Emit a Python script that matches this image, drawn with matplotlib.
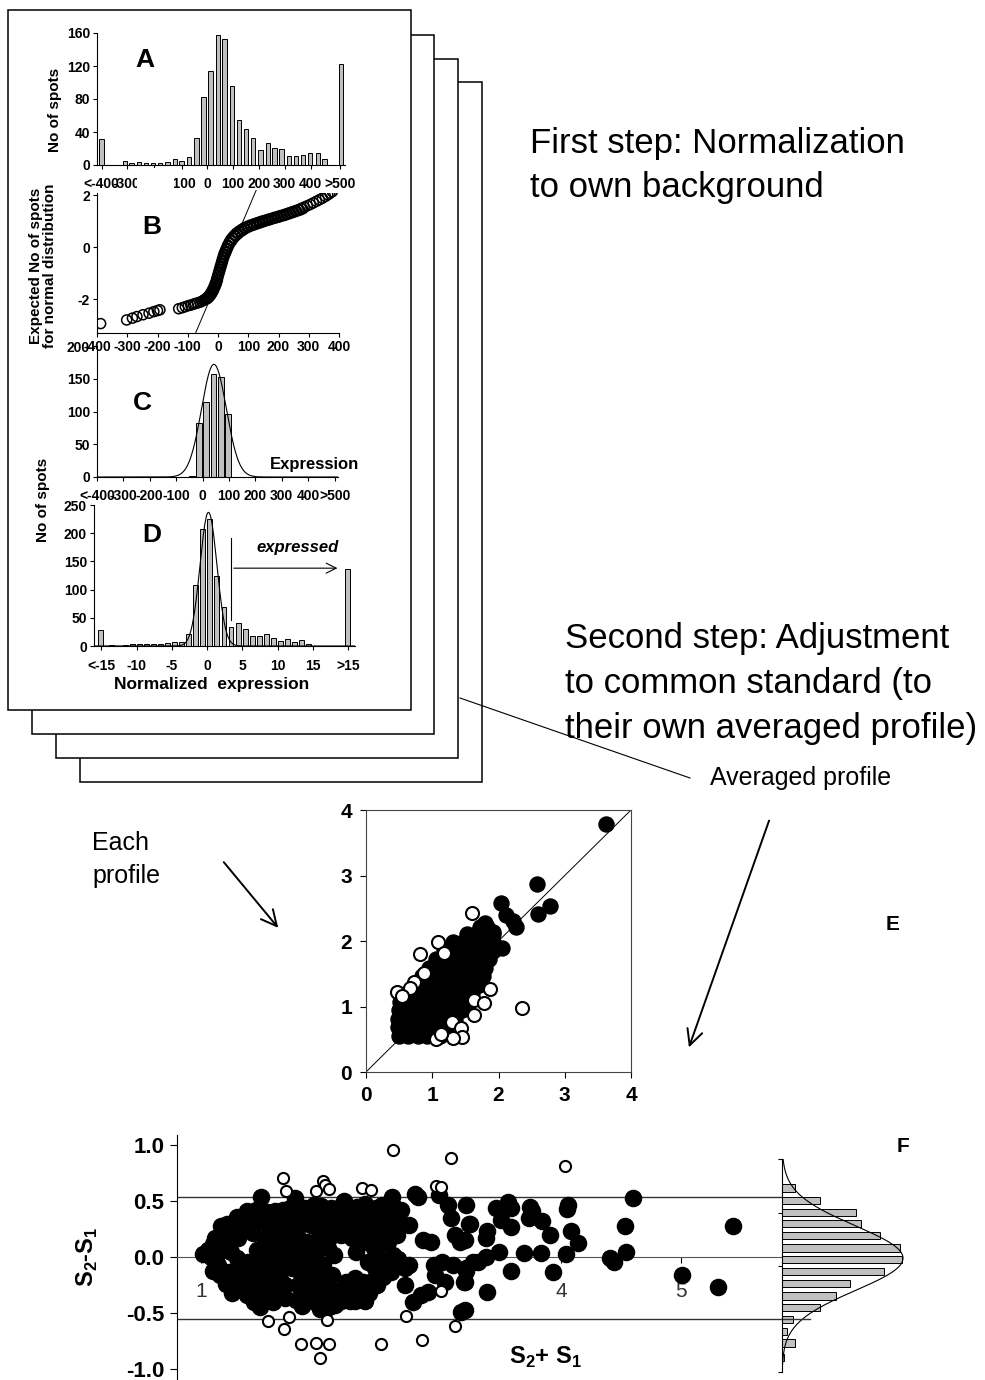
import matplotlib as mpl
mpl.use('Agg')
import numpy as np
import matplotlib.pyplot as plt
from matplotlib.patches import Rectangle, FancyArrowPatch
from matplotlib.lines import Line2D

plt.rcParams['font.family'] = ['Liberation Sans', 'DejaVu Sans']
plt.rcParams['font.weight'] = 'bold'
plt.rcParams['mathtext.fontset'] = 'custom'
plt.rcParams['mathtext.rm'] = 'Liberation Sans'
plt.rcParams['mathtext.bf'] = 'Liberation Sans:bold'
plt.rcParams['axes.linewidth'] = 0.8
plt.rcParams['axes.unicode_minus'] = False

W, H = 985, 1380
BAR = '#c0c0c0'

# ---- panel A: raw expression histogram
A_x = [-406, -317, -291, -261, -236, -208, -182, -152, -124, -98, -69, -41, -13, 13, 42,
       68, 96, 123, 151, 177, 206, 235, 260, 288, 315, 344, 369, 398, 427, 453, 517]
A_n = [32, 5, 2, 4, 3, 2, 3, 4, 7, 5, 10, 33, 82, 114, 157, 153, 96, 55, 44, 33, 18, 27,
       21, 19, 11, 11, 12, 14, 15, 7, 123]
A_tick_pos = [-406, -310, -205, -95, 0, 100, 200, 300, 400, 512]
A_tick_lab = ['<-400', '-300', '-200', '-100', '0', '100', '200', '300', '400', '>500']

# ---- panel B: normal probability plot
B_x = [-388, -302, -283, -268, -248, -228, -212, -200, -192, -130, -118, -108, -98, -90,
       -82, -75, -68, -60, -54, -48, -42, -38, -34, -30, -26, -22, -18, -14, -10, -7, -4,
       -1, 2, 5, 8, 11, 14, 17, 20, 24, 28, 32, 37, 42, 48, 55, 62, 70, 78, 86, 95, 105,
       115, 125, 135, 145, 155, 165, 175, 185, 195, 205, 215, 225, 235, 245, 255, 265,
       275, 285, 295, 305, 315, 325, 335, 345, 355, 363, 370, 378,
       -45, -36, -32, -28, -24, -20, -16, -12, -8, -5, -2, 0, 3, 6, 9, 12, 15, 18, 22,
       26, 30, 34, 39, 45, 51, 58, 66, 74, 82, 90, 100, 110, 120, 130, 140, 150, 160,
       170, 180, 190, 200, 210, 220, 230, 240, 250, 260, 270, 280]
B_y = [-2.93, -2.79, -2.72, -2.66, -2.59, -2.53, -2.47, -2.43, -2.40, -2.36, -2.32, -2.28,
       -2.24, -2.22, -2.19, -2.16, -2.14, -2.11, -2.08, -2.04, -2.00, -1.96, -1.91, -1.86,
       -1.80, -1.72, -1.63, -1.53, -1.42, -1.32, -1.20, -1.08, -0.96, -0.84, -0.72, -0.60,
       -0.48, -0.36, -0.25, -0.14, -0.03, 0.08, 0.19, 0.29, 0.38, 0.47, 0.55, 0.62, 0.68,
       0.74, 0.79, 0.84, 0.88, 0.92, 0.96, 1.00, 1.03, 1.07, 1.10, 1.14, 1.17, 1.21, 1.24,
       1.28, 1.32, 1.36, 1.40, 1.44, 1.49, 1.54, 1.59, 1.64, 1.70, 1.76, 1.82, 1.88, 1.95,
       2.01, 2.07, 2.13,
       -2.02, -1.98, -1.94, -1.89, -1.83, -1.76, -1.68, -1.58, -1.47, -1.37, -1.26, -1.14,
       -1.02, -0.90, -0.78, -0.66, -0.54, -0.42, -0.30, -0.19, -0.08, 0.03, 0.14, 0.24,
       0.34, 0.43, 0.51, 0.59, 0.65, 0.71, 0.77, 0.82, 0.86, 0.90, 0.94, 0.98, 1.02, 1.05,
       1.09, 1.12, 1.15, 1.19, 1.22, 1.26, 1.30, 1.34, 1.38, 1.42, 1.47]
B_fit_x = [-74, 126]
B_fit_y = [-3.29, 2.18]

# ---- panel C: central part with fitted normal
C_x = [-41, -13, 13, 41, 69, 97]
C_n = [2, 82, 114, 157, 153, 96]
C_peak, C_mu, C_sd = 172, 43, 47
C_tick_lab = ['<-400', '-300', '-200', '-100', '0', '100', '200', '300', '400', '>500']

# ---- panel D: normalized expression
D_x = [-15.1, -13.6, -11.6, -10.6, -9.6, -8.6, -7.6, -6.6, -5.6, -4.6, -3.6, -2.6, -1.6,
       -0.6, 0.4, 1.4, 2.4, 3.4, 4.4, 5.4, 6.4, 7.4, 8.4, 9.4, 10.4, 11.4, 12.4, 13.4, 14.4,
       20.0]
D_n = [28, 1, 1, 3, 3, 3, 4, 4, 5, 7, 7, 21, 108, 207, 226, 124, 69, 34, 41, 31, 18, 18,
       22, 14, 8, 12, 7, 10, 4, 137]
D_peak, D_mu, D_sd = 237, 0.2, 1.2
D_cut = 3.4
D_tick_pos = [-15, -10, -5, 0, 5, 10, 15, 20]
D_tick_lab = ['<-15', '-10', '-5', '0', '5', '10', '15', '>15']

# ---- panel E: profile vs averaged profile
E_rows_y = [0.55, 0.68, 0.81, 0.94, 1.07, 1.20, 1.33, 1.46, 1.59, 1.72, 1.85, 1.98, 2.10, 2.22]
E_rows_x = [[0.50, 0.64, 0.78, 0.92, 1.06, 1.12],
            [0.48, 0.62, 0.76, 0.90, 1.04, 1.18, 1.25],
            [0.48, 0.62, 0.76, 0.90, 1.04, 1.18, 1.32, 1.35],
            [0.50, 0.64, 0.78, 0.92, 1.06, 1.20, 1.34, 1.45],
            [0.52, 0.66, 0.80, 0.94, 1.08, 1.22, 1.36, 1.50, 1.55],
            [0.62, 0.76, 0.90, 1.04, 1.18, 1.32, 1.46, 1.60],
            [0.72, 0.86, 1.00, 1.14, 1.28, 1.42, 1.56, 1.70],
            [0.84, 0.98, 1.12, 1.26, 1.40, 1.54, 1.68, 1.76],
            [0.95, 1.09, 1.23, 1.37, 1.51, 1.65, 1.79],
            [1.05, 1.19, 1.33, 1.47, 1.61, 1.75, 1.86],
            [1.18, 1.32, 1.46, 1.60, 1.74, 1.88, 1.92],
            [1.32, 1.46, 1.60, 1.74, 1.88, 1.92],
            [1.52, 1.66, 1.80, 1.92],
            [1.72, 1.82]]
E_hi_x = [3.63, 2.58, 2.78, 2.59, 2.04, 2.12, 2.22, 2.27, 1.80, 2.05, 1.92]
E_hi_y = [3.78, 2.87, 2.53, 2.41, 2.58, 2.40, 2.30, 2.22, 2.28, 1.89, 2.14]
E_open_x = [1.60, 1.08, 0.82, 1.17, 0.88, 0.72, 0.66, 0.47, 0.55, 1.87, 1.63, 1.78, 1.63,
            2.35, 1.30, 1.44, 1.45, 1.31, 1.06, 1.13]
E_open_y = [2.42, 1.98, 1.80, 1.81, 1.51, 1.37, 1.28, 1.22, 1.16, 1.26, 1.10, 1.05, 0.87,
            0.97, 0.76, 0.67, 0.54, 0.52, 0.50, 0.58]

# ---- panel F: difference vs sum
F_fill_x = [1.06, 1.08, 1.12, 1.14, 1.19, 1.20, 1.23, 1.21, 1.27, 1.30, 1.31, 1.28, 1.34,
            1.38, 1.39, 1.38, 1.44, 1.46, 1.48, 1.49, 1.52, 1.53, 1.55, 1.56, 1.59, 1.62,
            1.62, 1.62, 1.63, 1.64, 1.70, 1.70, 1.67, 1.50, 1.66, 1.10, 1.16, 1.25, 1.34,
            1.43, 1.45, 1.57, 1.58, 1.68, 1.52, 1.22, 1.30,
            1.02, 1.10, 1.15, 1.17, 1.24, 1.26, 1.33, 1.33, 1.36, 1.40, 1.41, 1.47, 1.50,
            1.55, 1.57, 1.60, 1.66, 1.68, 1.69, 1.71,
            1.74, 1.76, 1.77, 1.78, 1.80, 1.81, 1.83, 1.84, 1.85, 1.87, 1.88, 1.89, 1.91,
            1.92, 1.94, 1.95, 1.96, 1.98, 1.99, 2.01, 2.02, 2.03, 2.05, 2.06, 2.08, 2.09,
            2.10, 2.12, 1.75, 1.82, 1.90, 1.93, 2.00, 1.86, 2.04, 1.97,
            1.74, 1.76, 1.79, 1.80, 1.83, 1.86, 1.88, 1.90, 1.93, 1.96, 1.98, 2.00, 2.04,
            2.07, 2.08, 2.11, 2.10, 2.13,
            2.14, 2.17, 2.20, 2.23, 2.24, 2.26, 2.28, 2.30, 2.31, 2.33, 2.35, 2.38, 2.39,
            2.41, 2.42, 2.45, 2.46, 2.48, 2.51, 2.53, 2.56, 2.58, 2.59, 2.62, 2.60, 2.20,
            2.36, 2.50, 2.44,
            2.16, 2.19, 2.21, 2.25, 2.27, 2.29, 2.33, 2.34, 2.37, 2.40, 2.43, 2.47, 2.49,
            2.52, 2.55, 2.57, 2.63, 2.64,
            2.64, 2.67, 2.70, 2.73, 2.73, 2.70, 2.77, 2.78, 2.81, 2.83, 2.85, 2.89, 2.92,
            2.94, 2.95, 2.98, 3.01, 3.03, 3.06, 3.08, 3.10, 3.12, 3.16, 3.17, 3.19, 3.21,
            3.23, 3.21, 3.27,
            1.95, 2.01, 2.17, 2.28, 2.37,
            3.24, 3.20, 3.21, 3.20, 3.20, 3.46, 3.56, 3.58, 3.50, 3.58, 3.74, 3.76, 3.73,
            3.84, 3.91, 4.06, 4.05, 4.08, 4.14, 3.38, 3.37, 3.48, 3.37, 3.31, 3.69, 3.83,
            4.04, 3.58, 3.93, 3.38, 4.60, 4.53, 4.54, 4.41, 4.44, 5.01, 5.31, 5.43]
F_fill_y = [0.06, 0.00, 0.17, -0.07, 0.23, 0.11, -0.13, -0.24, 0.29, -0.01, 0.17, -0.22,
            0.33, 0.41, -0.04, -0.34, -0.40, 0.42, -0.13, -0.45, 0.32, 0.14, -0.22, -0.34,
            0.38, 0.41, 0.26, -0.01, -0.13, -0.31, -0.25, -0.37, 0.14, 0.54, 0.35, 0.12,
            -0.16, 0.05, -0.18, 0.22, -0.27, 0.05, -0.10, 0.03, -0.06, 0.30, 0.36,
            0.03, -0.12, 0.05, 0.28, 0.20, -0.32, 0.25, -0.28, -0.10, 0.30, -0.22, 0.06,
            -0.30, 0.40, 0.22, -0.40, -0.20, 0.42, 0.27, -0.05,
            0.05, -0.10, 0.41, 0.53, 0.20, -0.25, 0.30, -0.44, 0.00, 0.44, 0.14, -0.16,
            -0.37, 0.29, 0.47, 0.02, -0.25, 0.17, -0.46, 0.38, -0.07, 0.29, -0.34, 0.08,
            0.44, -0.16, 0.20, -0.43, 0.30, -0.05, 0.38, -0.08, 0.08, -0.30, 0.18, -0.15,
            0.44, 0.18, -0.38, 0.05, -0.15, 0.36, -0.02, -0.28, 0.40, 0.27, -0.35, 0.46,
            -0.22, -0.45, 0.30, 0.02, 0.38, -0.30,
            0.44, 0.20, -0.31, 0.41, -0.39, 0.17, -0.19, 0.45, 0.26, -0.37, -0.22, 0.14,
            -0.04, -0.22, 0.23, -0.10, 0.44, 0.32, 0.47, 0.23, 0.14, -0.13, 0.54, 0.44,
            0.02, 0.32, 0.36, -0.02, 0.08,
            0.35, 0.50, -0.22, 0.30, -0.30, 0.05, 0.38, -0.28, 0.48, -0.32, 0.36, -0.25,
            0.12, -0.18, 0.36, -0.05, 0.20, -0.02,
            0.32, 0.42, -0.10, 0.29, -0.07, -0.25, -0.40, 0.57, 0.54, -0.34, 0.15, -0.31,
            0.14, -0.07, -0.16, 0.56, -0.04, -0.22, 0.47, 0.35, -0.07, 0.20, 0.14, -0.49,
            -0.22, 0.47, 0.30, -0.10, -0.04,
            -0.40, -0.43, -0.39, -0.39, -0.39,
            0.30, 0.15, -0.12, -0.22, -0.47, 0.44, 0.49, 0.44, 0.33, 0.27, 0.45, 0.41, 0.35,
            0.32, 0.20, 0.47, 0.43, 0.23, 0.13, 0.23, 0.17, 0.05, 0.00, -0.04, 0.04, 0.04,
            0.03, -0.12, -0.13, -0.31, 0.53, 0.28, 0.05, -0.01, -0.04, -0.16, -0.27, 0.28]
F_open_x = [2.60, 3.08, 1.68, 1.71, 2.02, 2.03, 2.07, 1.96, 2.34, 2.42, 2.96, 3.00, 1.56,
            1.73, 1.69, 2.05, 1.83, 1.96, 2.07, 1.99, 2.50, 2.71, 2.84, 3.12, 3.00, 4.03]
F_open_y = [0.96, 0.89, 0.71, 0.59, 0.68, 0.65, 0.61, 0.59, 0.62, 0.60, 0.64, 0.63, -0.57,
            -0.54, -0.64, -0.56, -0.78, -0.77, -0.78, -0.90, -0.78, -0.53, -0.74, -0.62,
            -0.30, 0.82]
F_limits = [0.535, -0.556]
F_hist_y = [0.62, 0.51, 0.40, 0.30, 0.19, 0.08, -0.02, -0.13, -0.24, -0.35, -0.45, -0.56,
            -0.67, -0.77, -0.90]
F_hist_n = [13, 38, 74, 79, 98, 118, 120, 102, 68, 54, 38, 11, 5, 13, 2]
F_peak, F_mu, F_sd = 121, -0.01, 0.29


def rect(x0, y0, x1, y1):
    return [x0 / W, 1 - y1 / H, (x1 - x0) / W, (y1 - y0) / H]


def fx(x):
    return x / W


def fy(y):
    return 1 - y / H


def plain(ax, size=10, pad=2):
    ax.set_facecolor('none')
    for s in ['top', 'right']:
        ax.spines[s].set_visible(False)
    ax.tick_params(direction='out', length=3, width=0.8, labelsize=size, pad=pad)


fig = plt.figure(figsize=(W / 100, H / 100), dpi=100)

# stacked pages
for k, (x0, y0, x1, y1) in enumerate([(80, 82, 482, 782), (56, 59, 458, 758),
                                      (32, 35, 434, 734), (8, 10, 411, 710)]):
    fig.add_artist(Rectangle((fx(x0), fy(y1)), (x1 - x0) / W, (y1 - y0) / H,
                             transform=fig.transFigure, facecolor='white',
                             edgecolor='black', linewidth=1.1, zorder=-5 + k))

# A
axA = fig.add_axes(rect(97, 33, 345, 165))
plain(axA)
axA.bar(A_x, A_n, width=17, color=BAR, edgecolor='black', linewidth=0.7)
axA.set_xlim(-424, 532)
axA.set_ylim(0, 160)
axA.set_yticks([0, 40, 80, 120, 160])
axA.set_xticks(A_tick_pos, labels=A_tick_lab)
axA.tick_params(axis='x', pad=6)
fig.add_artist(Rectangle((fx(137), fy(196)), 36.5 / W, 28 / H, transform=fig.transFigure,
                         facecolor='white', edgecolor='none', zorder=5))

# B
axB = fig.add_axes(rect(97, 193, 339, 333))
plain(axB)
axB.scatter(B_x, B_y, s=52, facecolor='none', edgecolor='black', linewidth=1.1, zorder=3)
axB.plot(B_fit_x, B_fit_y, color='black', lw=0.7, clip_on=False, zorder=2)
axB.set_xlim(-400, 400)
axB.set_ylim(-3.29, 2.08)
axB.set_xticks(range(-400, 401, 100))
axB.set_yticks([-2, 0, 2])

# C
axC = fig.add_axes(rect(97, 346, 338, 477))
plain(axC)
axC.bar(C_x, C_n, width=22, color=BAR, edgecolor='black', linewidth=0.7)
xc = np.linspace(-400, 513, 400)
axC.plot(xc, C_peak * np.exp(-0.5 * ((xc - C_mu) / C_sd) ** 2), color='black', lw=0.8)
axC.set_xlim(-400, 513)
axC.set_ylim(0, 200)
axC.set_yticks([0, 50, 100, 150, 200])
axC.set_xticks(range(-400, 501, 100), labels=C_tick_lab)
axC.tick_params(axis='x', pad=6)

# D
axD = fig.add_axes(rect(94, 505, 355, 646))
plain(axD)
axD.bar(D_x, D_n, width=0.7, color=BAR, edgecolor='black', linewidth=0.7)
xd = np.linspace(-16, 21, 400)
axD.plot(xd, D_peak * np.exp(-0.5 * ((xd - D_mu) / D_sd) ** 2), color='black', lw=0.8)
axD.plot([D_cut, D_cut], [46, 191], color='black', lw=0.8)
axD.annotate('', xy=(18.9, 138), xytext=(D_cut, 138),
             arrowprops=dict(arrowstyle='->', lw=0.8, mutation_scale=18, color='black'))
axD.text(12.85, 174, 'expressed', style='italic', fontsize=12, ha='center', va='center')
axD.set_xlim(-16.05, 21.0)
axD.set_ylim(0, 250)
axD.set_yticks(range(0, 251, 50))
axD.set_xticks(D_tick_pos, labels=D_tick_lab)
axD.tick_params(axis='x', pad=6)

# labels of the page
for t, x, y in [('A', 145, 60), ('B', 152, 227), ('C', 142, 403), ('D', 152, 535)]:
    fig.text(fx(x), fy(y), t, fontsize=19, ha='center', va='center')
fig.text(fx(55), fy(110), 'No of spots', rotation=90, fontsize=11, ha='center', va='center')
fig.text(fx(43), fy(266), 'Expected No of spots\nfor normal distribution', rotation=90,
         fontsize=11, ha='center', va='center', linespacing=1.0)
fig.text(fx(43), fy(500), 'No of spots', rotation=90, fontsize=11, ha='center', va='center')
fig.text(fx(270), fy(465), 'Expression', fontsize=12, ha='left', va='center')
fig.text(fx(212), fy(685), 'Normalized  expression', fontsize=12.5, ha='center', va='center')

# E
axE = fig.add_axes(rect(366, 810, 631, 1072))
axE.set_facecolor('none')
for s in axE.spines.values():
    s.set_color('#444444')
E_fx = [x for row in E_rows_x for x in row]
E_fy = [y for y, row in zip(E_rows_y, E_rows_x) for _ in row]
axE.plot([0, 4], [0, 4], color='black', lw=0.7, zorder=2)
axE.scatter(E_fx, E_fy, s=117, color='black', zorder=3)
axE.scatter(E_hi_x, E_hi_y, s=117, color='black', zorder=3)
axE.scatter(E_open_x, E_open_y, s=88, facecolor='white', edgecolor='black', linewidth=1.5,
            zorder=4)
axE.set_xlim(0, 4)
axE.set_ylim(0, 4)
axE.set_xticks(range(5))
axE.set_yticks(range(5))
axE.tick_params(direction='out', length=4, labelsize=15, pad=6)
fig.text(fx(893), fy(925), 'E', fontsize=15, ha='center', va='center')

# F
axF = fig.add_axes(rect(177, 1135, 782, 1380))
axF.set_facecolor('none')
for s in ['top', 'right']:
    axF.spines[s].set_visible(False)
axF.spines['bottom'].set_position(('data', 0))
axF.spines['bottom'].set_color('#555555')
for yl in F_limits:
    axF.axhline(yl, color='#333333', lw=1)
axF.scatter(F_fill_x, F_fill_y, s=135, color='black', zorder=3)
axF.scatter(F_open_x, F_open_y, s=64, facecolor='white', edgecolor='black', linewidth=1.5,
            zorder=4)
axF.set_xlim(0.8, 5.84)
axF.set_ylim(-1.10, 1.094)
axF.set_yticks([-1.0, -0.5, 0.0, 0.5, 1.0])
axF.set_yticklabels(['-1.0', '-0.5', '0.0', '0.5', '1.0'])
axF.tick_params(axis='y', direction='out', length=5, labelsize=16, pad=4)
axF.set_xticks([1, 2, 3, 4, 5], labels=['1', '2', '3', '4', '5'], fontweight='normal',
               fontsize=15, color='#333333')
axF.tick_params(axis='x', direction='out', length=4, pad=14)
fig.text(fx(87), fy(1257), r'S$_\mathbf{2}$-S$_\mathbf{1}$', rotation=90, fontsize=17,
         ha='center', va='center')
fig.text(fx(545), fy(1357), r'S$_\mathbf{2}$+ S$_\mathbf{1}$', fontsize=17,
         ha='center', va='center')
fig.text(fx(903), fy(1147), 'F', fontsize=15, ha='center', va='center')

axH = fig.add_axes(rect(782, 1159, 912, 1372))
axH.set_facecolor('none')
for s in ['top', 'right', 'bottom']:
    axH.spines[s].set_visible(False)
axH.barh(F_hist_y, F_hist_n, height=0.065, color=BAR, edgecolor='black', linewidth=0.7)
yh = np.linspace(-1.03, 0.88, 300)
axH.plot(F_peak * np.exp(-0.5 * ((yh - F_mu) / F_sd) ** 2), yh, color='black', lw=0.8)
axH.plot([0, 28], [F_limits[1]] * 2, color='#333333', lw=1, clip_on=False)
axH.set_xlim(0, 130)
axH.set_ylim(-1.031, 0.879)
axH.set_xticks([])
axH.set_yticks([0.879, 0.395, -0.08, -1.031], labels=[])
axH.tick_params(axis='y', direction='out', length=3)

# annotation text and arrows
for txt, x, y in [('First step: Normalization', 530, 153), ('to own background', 530, 197),
                  ('Second step: Adjustment', 565, 648), ('to common standard (to', 565, 693),
                  ('their own averaged profile)', 565, 738)]:
    fig.text(fx(x), fy(y), txt, fontsize=25, fontweight='normal', va='baseline')
fig.text(fx(710), fy(785), 'Averaged profile', fontsize=18, fontweight='normal',
         va='baseline')
fig.text(fx(92), fy(850), 'Each', fontsize=18, fontweight='normal', va='baseline')
fig.text(fx(92), fy(883), 'profile', fontsize=18, fontweight='normal', va='baseline')

fig.add_artist(Line2D([fx(460), fx(690)], [fy(698), fy(778)], transform=fig.transFigure,
                      color='black', lw=0.8))
for (xa, ya), (xb, yb) in [((222, 860), (280, 930)), ((770, 818), (688, 1050))]:
    fig.add_artist(FancyArrowPatch((fx(xa), fy(ya)), (fx(xb), fy(yb)),
                                   transform=fig.transFigure, arrowstyle='->',
                                   mutation_scale=28, lw=1.4, color='black', zorder=3))

fig.savefig('out.png', dpi=100)
